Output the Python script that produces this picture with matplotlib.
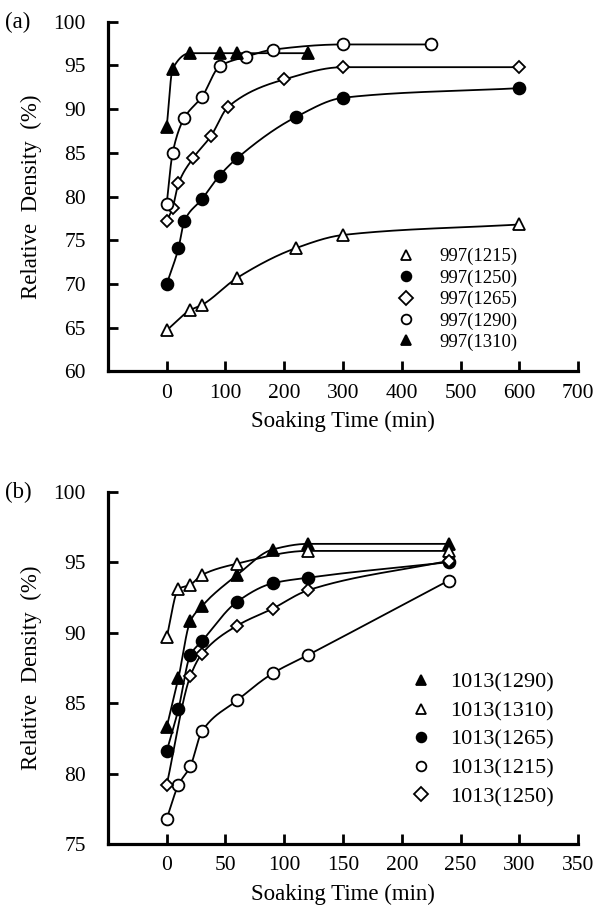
import matplotlib
matplotlib.use("Agg")
import matplotlib.pyplot as plt
from matplotlib.lines import Line2D
import numpy as np

plt.rcParams["font.family"] = ["Liberation Serif", "DejaVu Serif"]

# panel (a): 997 series, soaking time (min) vs relative density (%)
a_labels = ["997(1215)", "997(1250)", "997(1265)", "997(1290)", "997(1310)"]
a_1215_t = [0, 40, 60, 120, 220, 300, 600]
a_1215_d = [64.7, 67.0, 67.6, 70.7, 74.1, 75.6, 76.8]
a_1250_t = [0, 20, 30, 60, 90, 120, 220, 300, 600]
a_1250_d = [70.0, 74.1, 77.2, 79.7, 82.4, 84.4, 89.1, 91.3, 92.4]
a_1265_t = [0, 10, 20, 45, 75, 105, 200, 300, 600]
a_1265_d = [77.2, 78.7, 81.5, 84.4, 86.9, 90.3, 93.4, 94.8, 94.8]
a_1290_t = [0, 10, 30, 60, 90, 135, 180, 300, 450]
a_1290_d = [79.2, 85.0, 89.0, 91.4, 94.9, 96.0, 96.8, 97.4, 97.4]
a_1310_t = [0, 10, 40, 90, 120, 240]
a_1310_d = [88.0, 94.6, 96.4, 96.4, 96.4, 96.4]

# panel (b): 1013 series
b_labels = ["1013(1290)", "1013(1310)", "1013(1265)", "1013(1215)", "1013(1250)"]
b_1290_t = [0, 10, 20, 30, 60, 90, 120, 240]
b_1290_d = [83.3, 86.8, 90.8, 91.9, 94.1, 95.9, 96.3, 96.3]
b_1310_t = [0, 10, 20, 30, 60, 120, 240]
b_1310_d = [89.7, 93.1, 93.4, 94.1, 94.9, 95.8, 95.8]
b_1265_t = [0, 10, 20, 30, 60, 90, 120, 240]
b_1265_d = [81.6, 84.6, 88.4, 89.4, 92.2, 93.5, 93.9, 95.0]
b_1215_t = [0, 10, 20, 30, 60, 90, 120, 240]
b_1215_d = [76.8, 79.2, 80.5, 83.0, 85.2, 87.1, 88.4, 93.7]
b_1250_t = [0, 20, 30, 60, 90, 120, 240]
b_1250_d = [79.2, 86.9, 88.5, 90.5, 91.7, 93.0, 95.1]

OPEN_TRI = dict(marker="^", mfc="white", mec="black")
FILL_TRI = dict(marker="^", mfc="black", mec="black")
OPEN_CIR = dict(marker="o", mfc="white", mec="black")
FILL_CIR = dict(marker="o", mfc="black", mec="black")
OPEN_DIA = dict(marker="D", mfc="white", mec="black")


def pchip(x, y, xs):
    # monotone cubic through the points, only for drawing the smooth curves
    x = np.asarray(x, float)
    y = np.asarray(y, float)
    h = np.diff(x)
    delta = np.diff(y) / h
    n = len(x)
    d = np.zeros(n)
    for k in range(1, n - 1):
        if delta[k - 1] * delta[k] > 0:
            w1 = 2 * h[k] + h[k - 1]
            w2 = h[k] + 2 * h[k - 1]
            d[k] = (w1 + w2) / (w1 / delta[k - 1] + w2 / delta[k])
    d[0] = delta[0]
    d[-1] = delta[-1]
    idx = np.clip(np.searchsorted(x, xs) - 1, 0, n - 2)
    t = (xs - x[idx]) / h[idx]
    h00 = 2 * t**3 - 3 * t**2 + 1
    h10 = t**3 - 2 * t**2 + t
    h01 = -2 * t**3 + 3 * t**2
    h11 = t**3 - t**2
    return (h00 * y[idx] + h10 * h[idx] * d[idx]
            + h01 * y[idx + 1] + h11 * h[idx] * d[idx + 1])


def draw_series(ax, t, d, style, ms):
    xs = np.linspace(t[0], t[-1], 400)
    ax.plot(xs, pchip(t, d, xs), color="black", lw=1.3, zorder=2)
    ax.plot(t, d, ls="none", ms=ms, mew=1.3, zorder=3, **style)


def style_axes(ax, xlim, xticks, ylim, yticks):
    ax.set_xlim(*xlim)
    ax.set_ylim(*ylim)
    ax.set_xticks(xticks)
    ax.set_yticks(yticks)
    for side in ("top", "right"):
        ax.spines[side].set_visible(False)
    for side in ("left", "bottom"):
        ax.spines[side].set_linewidth(2.3)
    ax.tick_params(axis="both", direction="in", length=7, width=2.0,
                   labelsize=15.5)
    ax.tick_params(axis="x", pad=9)
    ax.tick_params(axis="y", pad=16)
    ax.set_xlabel("Soaking Time (min)", fontsize=16.5, labelpad=6)
    ax.set_ylabel("Relative  Density  (%)", fontsize=16.5, labelpad=8)


def legend_handles(styles, ms):
    return [Line2D([], [], ls="none", ms=ms, mew=1.3, **s) for s in styles]


fig = plt.figure(figsize=(6.05, 9.13), dpi=100)
ax_a = fig.add_axes([0.1785, 0.5933, 0.7769, 0.3829])
ax_b = fig.add_axes([0.1785, 0.0756, 0.7769, 0.3858])

a_styles = [OPEN_TRI, FILL_CIR, OPEN_DIA, OPEN_CIR, FILL_TRI]
a_data = [(a_1215_t, a_1215_d), (a_1250_t, a_1250_d), (a_1265_t, a_1265_d),
          (a_1290_t, a_1290_d), (a_1310_t, a_1310_d)]
for (t, d), s in zip(a_data, a_styles):
    draw_series(ax_a, t, d, s, 6.5 if s["marker"] == "D" else 8.5)
style_axes(ax_a, (-100, 700), range(0, 701, 100), (60, 100), range(60, 101, 5))
ax_a.legend(legend_handles(a_styles, 7), a_labels, frameon=False,
            loc="lower left", bbox_to_anchor=(0.61, 0.058), fontsize=13.5,
            handletextpad=1.2, labelspacing=0.22, borderpad=0,
            borderaxespad=0, handlelength=1.2)

b_styles = [FILL_TRI, OPEN_TRI, FILL_CIR, OPEN_CIR, OPEN_DIA]
b_data = [(b_1290_t, b_1290_d), (b_1310_t, b_1310_d), (b_1265_t, b_1265_d),
          (b_1215_t, b_1215_d), (b_1250_t, b_1250_d)]
for (t, d), s in zip(b_data, b_styles):
    draw_series(ax_b, t, d, s, 6.5 if s["marker"] == "D" else 8.5)
style_axes(ax_b, (-50, 350), range(0, 351, 50), (75, 100), range(75, 101, 5))
ax_b.legend(legend_handles(b_styles, 7), b_labels, frameon=False,
            loc="lower left", bbox_to_anchor=(0.638, 0.105), fontsize=16,
            handletextpad=0.7, labelspacing=0.36, borderpad=0,
            borderaxespad=0, handlelength=1.2)

fig.text(0.008, 1 - 22 / 913, "(a)", fontsize=16.5, va="center")
fig.text(0.008, 1 - 492 / 913, "(b)", fontsize=16.5, va="center")

fig.savefig("out.png", dpi=100)
plt.close(fig)
